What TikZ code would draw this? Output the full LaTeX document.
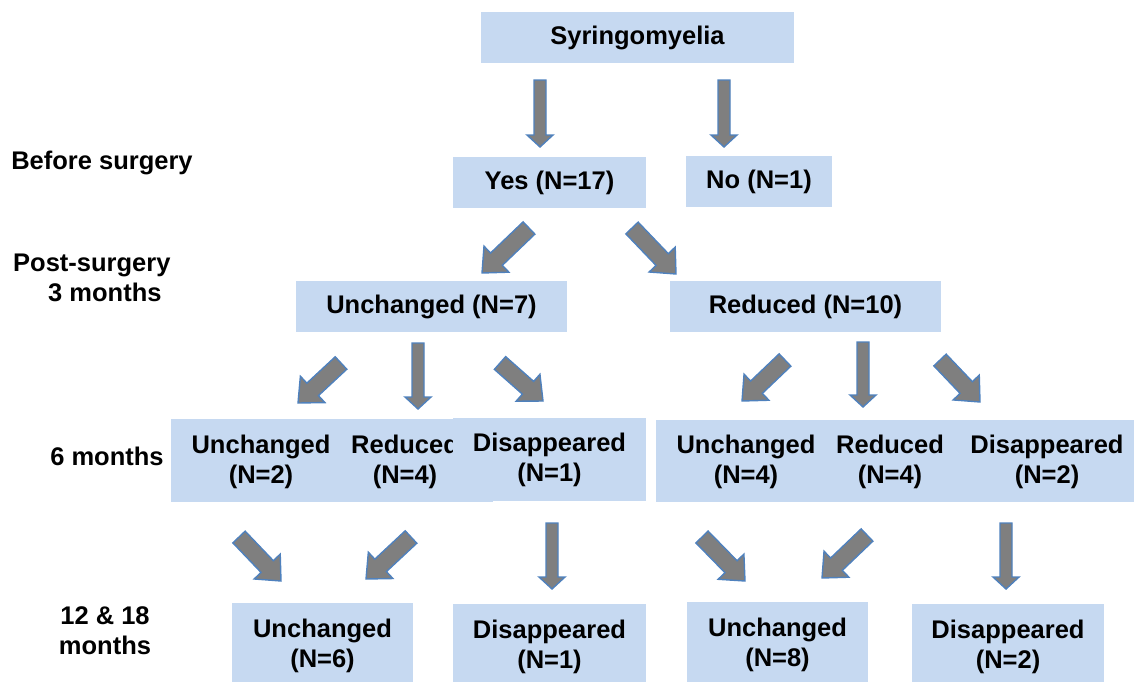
\documentclass[tikz,border=0pt]{standalone}
\usepackage{fontspec}
\setmainfont{Liberation Sans}
\usetikzlibrary{calc}

\definecolor{boxblue}{HTML}{C6D9F1}
\definecolor{arrowgray}{HTML}{7F7F7F}
\definecolor{arrowedge}{HTML}{4F81BD}

% fat arrow from (#1 tail) to (#1 tip): #2 half shaft, #3 half head, #4 head length
\newcommand{\fatarrow}[4]{%
	\coordinate (#1 base) at ($(#1 tip)!#4!(#1 tail)$);
	\draw[arrowbody] ($(#1 tail)!#2!90:(#1 tip)$) -- ($(#1 base)!#2!90:(#1 tip)$)
		-- ($(#1 base)!#3!90:(#1 tip)$) -- (#1 tip) -- ($(#1 base)!#3!-90:(#1 tip)$)
		-- ($(#1 base)!#2!-90:(#1 tip)$) -- ($(#1 tail)!#2!-90:(#1 tip)$) -- cycle;
}

\begin{document}
\begin{tikzpicture}[x=1pt,y=-1pt,
		font=\fontsize{25.5}{30}\selectfont\bfseries,
		box/.style={fill=boxblue,inner sep=0pt,align=center},
		rowlabel/.style={inner sep=0pt,align=center},
		arrowbody/.style={fill=arrowgray,draw=arrowedge,line width=1.4pt,line join=miter}]
	\useasboundingbox (0,0) rectangle (1134,681);

	% row labels
	\begin{scope}[every node/.style={rowlabel}]
		\node (before) at (102,163) {Before surgery};
		\node[anchor=west,align=left] (post) at (13,278) {Post-surgery\\\hspace*{35pt}3 months};
		\node (six) at (107,456) {6 months};
		\node (twelve) at (105,631) {12 \& 18\\months};
	\end{scope}

	% boxes
	\begin{scope}[every node/.style={box}]
		\node[minimum width=313pt,minimum height=51pt] (syr) at (637.5,37.5) {Syringomyelia};
		\node[minimum width=193pt,minimum height=51pt] (yes) at (549.5,182.5) {Yes (N=17)};
		\node[minimum width=146pt,minimum height=51pt] (no) at (759,181.5) {No (N=1)};
		\node[minimum width=271pt,minimum height=51pt] (unch7) at (431.5,306.5) {Unchanged (N=7)};
		\node[minimum width=271pt,minimum height=51pt] (red10) at (805.5,306.5) {Reduced (N=10)};

		\node[minimum width=322pt,minimum height=83pt] (sixleft) at (332,460.5) {};
		\node[fill=none] (unch2) at (261,462) {Unchanged\\(N=2)};
		\node[fill=none] (red4a) at (405,462) {Reduced\\(N=4)};
		\node[minimum width=193pt,minimum height=83pt] (dis1a) at (549.5,459.5) {Disappeared\\(N=1)};
		\node[minimum width=478pt,minimum height=82pt] (sixright) at (895,461) {};
		\node[fill=none] (unch4) at (746,462) {Unchanged\\(N=4)};
		\node[fill=none] (red4b) at (890,462) {Reduced\\(N=4)};
		\node[fill=none] (dis2a) at (1047,462) {Disappeared\\(N=2)};

		\node[minimum width=181pt,minimum height=86pt] (unch6) at (322.5,646) {Unchanged\\(N=6)};
		\node[minimum width=193pt,minimum height=86pt] (dis1b) at (549.5,647) {Disappeared\\(N=1)};
		\node[minimum width=181pt,minimum height=86pt] (unch8) at (777.5,645) {Unchanged\\(N=8)};
		\node[minimum width=192pt,minimum height=86pt] (dis2b) at (1008,647) {Disappeared\\(N=2)};
	\end{scope}

	% arrow ends
	\coordinate (v1 tail) at (540,80);    \coordinate (v1 tip) at (540,147);
	\coordinate (v2 tail) at (724,80);    \coordinate (v2 tip) at (724,147);
	\coordinate (v3 tail) at (418,343);   \coordinate (v3 tip) at (418,409);
	\coordinate (v4 tail) at (863,342);   \coordinate (v4 tip) at (863,407);
	\coordinate (v5 tail) at (552,523);   \coordinate (v5 tip) at (552,589);
	\coordinate (v6 tail) at (1006,523);  \coordinate (v6 tip) at (1006,589);
	\coordinate (d1 tail) at (529,228);   \coordinate (d1 tip) at (482,273);
	\coordinate (d2 tail) at (632,228);   \coordinate (d2 tip) at (676,274);
	\coordinate (d3 tail) at (341,363);   \coordinate (d3 tip) at (298,403);
	\coordinate (d4 tail) at (500,363);   \coordinate (d4 tip) at (543,401);
	\coordinate (d5 tail) at (785,360);   \coordinate (d5 tip) at (742,401);
	\coordinate (d6 tail) at (940,360);   \coordinate (d6 tip) at (980,402);
	\coordinate (d7 tail) at (239,537);   \coordinate (d7 tip) at (281,581);
	\coordinate (d8 tail) at (411,537);   \coordinate (d8 tip) at (366,579);
	\coordinate (d9 tail) at (702,537);   \coordinate (d9 tip) at (745,581);
	\coordinate (d10 tail) at (867,535);  \coordinate (d10 tip) at (822,578);

	% arrows
	\foreach \a in {v1,v2,v3,v4,v5,v6}
		{\fatarrow{\a}{6pt}{13pt}{12pt}}
	\foreach \a in {d1,d2,d3,d4,d5,d6,d7,d8,d9,d10}
		{\fatarrow{\a}{8.5pt}{18pt}{20pt}}
\end{tikzpicture}
\end{document}
